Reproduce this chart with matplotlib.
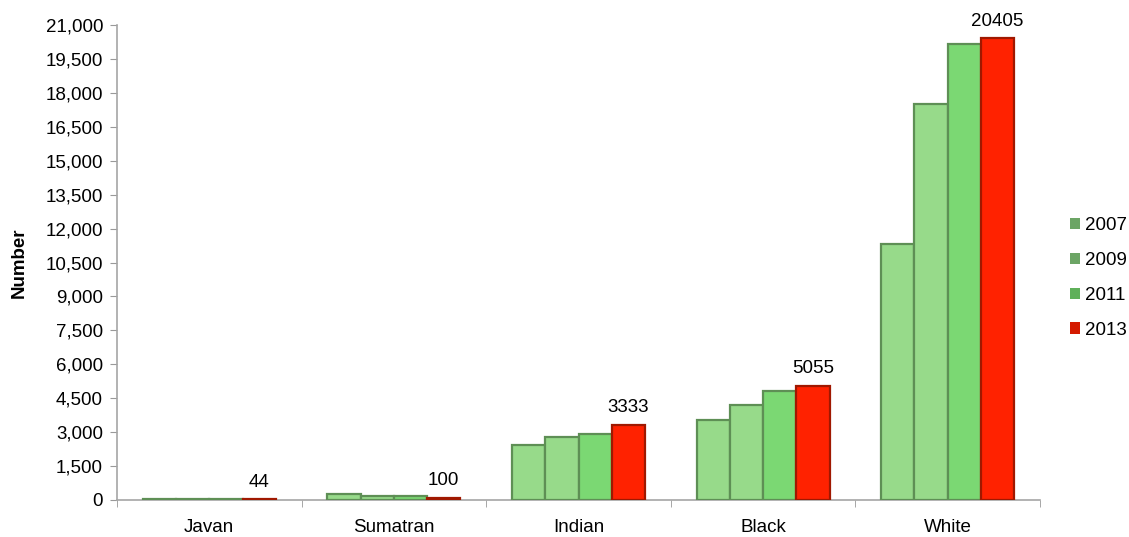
import numpy as np
import matplotlib
matplotlib.use("Agg")
import matplotlib.pyplot as plt
from matplotlib.ticker import FuncFormatter

plt.rcParams['font.family'] = ['Liberation Sans', 'DejaVu Sans']

species = ['Javan', 'Sumatran', 'Indian', 'Black', 'White']
years = ['2007', '2009', '2011', '2013']
counts = {
    '2007': [40, 280, 2450, 3550, 11300],
    '2009': [45, 190, 2800, 4200, 17500],
    '2011': [44, 190, 2900, 4800, 20150],
    '2013': [44, 100, 3333, 5055, 20405],
}
bar_colors = ['#97da8a', '#97da8a', '#7bd873', '#ff2200']
edge_colors = ['#5e8f55', '#5e8f55', '#5e8f55', '#a01800']
legend_colors = ['#6ca565', '#6ca565', '#5fb05a', '#d41a00']

fs = 13.5

fig = plt.figure(figsize=(11.29, 5.37), dpi=100)
ax = fig.add_axes([117 / 1129, 37 / 537, (1040 - 117) / 1129, (500 - 25) / 537])

x = np.arange(len(species))
w = 0.18
for i, yr in enumerate(years):
    ax.bar(x + (i - 1.5) * w, counts[yr], width=w, color=bar_colors[i],
           edgecolor=edge_colors[i], linewidth=1.6, zorder=3)

# value labels on 2013 bars
for xi, v in zip(x, counts['2013']):
    ax.annotate(str(v), (xi + 1.5 * w, v), xytext=(0, 6), textcoords='offset points',
                ha='center', va='bottom', fontsize=fs)

ax.set_xlim(-0.5, len(species) - 0.5)
ax.set_ylim(0, 21000)
ax.set_yticks(np.arange(0, 21001, 1500))
ax.yaxis.set_major_formatter(FuncFormatter(lambda v, p: f'{int(v):,}'))
ax.set_xticks(x)
ax.set_xticklabels(species)
ax.set_xticks(np.arange(-0.5, len(species)), minor=True)
ax.tick_params(axis='x', which='major', length=0, labelsize=fs, pad=14)
ax.tick_params(axis='x', which='minor', length=5, color='#999999')
ax.tick_params(axis='y', length=5, color='#999999', labelsize=fs, pad=5)

for s in ['top', 'right']:
    ax.spines[s].set_visible(False)
for s in ['left', 'bottom']:
    ax.spines[s].set_color('#a6a6a6')
    ax.spines[s].set_linewidth(1.2)

ax.set_ylabel('Number', fontsize=fs, fontweight='bold', labelpad=13)

handles = [plt.Rectangle((0, 0), 1, 1, facecolor=c, edgecolor='none') for c in legend_colors]
fig.legend(handles, years, loc='center left', bbox_to_anchor=(1070 / 1129, 1 - 278 / 537),
           frameon=False, fontsize=fs, handlelength=0.55, handleheight=0.55,
           handletextpad=0.25, labelspacing=0.95, borderpad=0, borderaxespad=0)

fig.savefig('out.png', dpi=100)
